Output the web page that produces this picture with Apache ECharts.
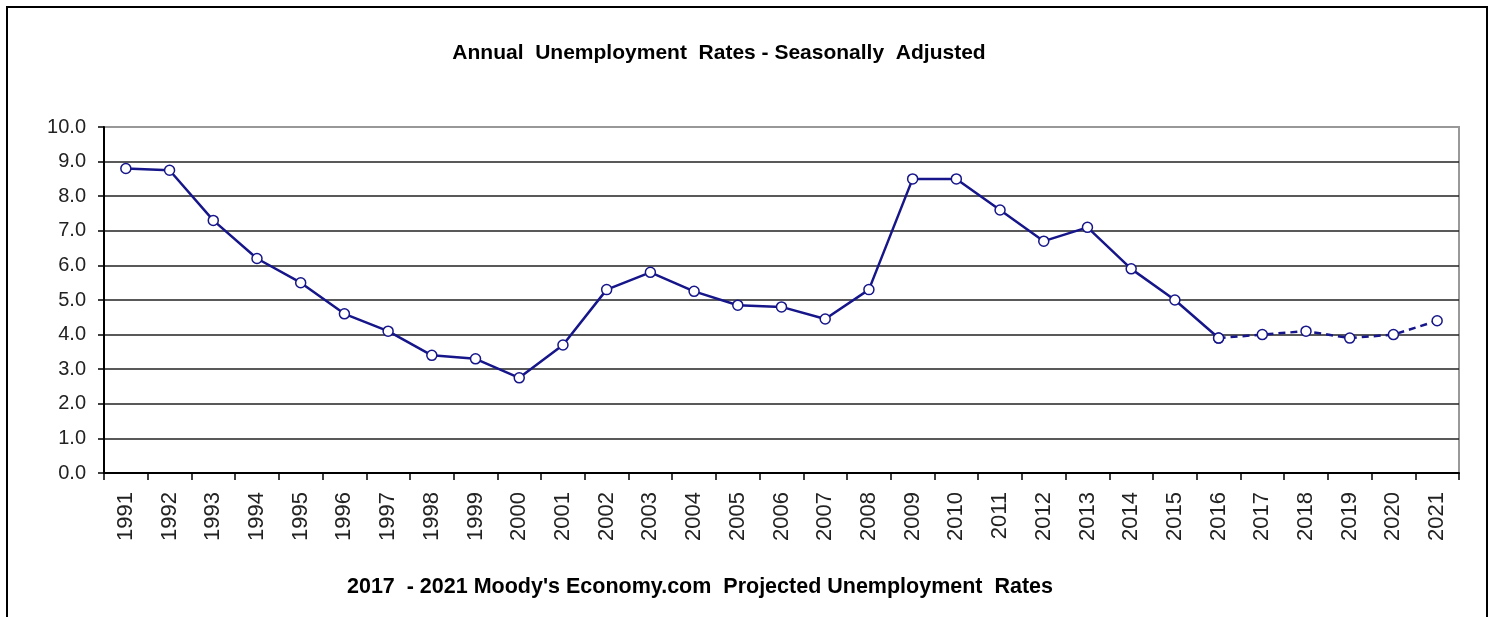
<!DOCTYPE html>
<html><head><meta charset="utf-8">
<script src="https://cdn.jsdelivr.net/npm/echarts@6/dist/echarts.min.js"></script>
<style>html,body{margin:0;padding:0;background:#fff}#c{width:1494px;height:617px}</style>
</head><body><div id="c"></div>
<script>
const years = ['1991','1992','1993','1994','1995','1996','1997','1998','1999','2000','2001','2002','2003','2004','2005','2006','2007','2008','2009','2010','2011','2012','2013','2014','2015','2016','2017','2018','2019','2020','2021'];
const actualRates = [8.8,8.75,7.3,6.2,5.5,4.6,4.1,3.4,3.3,2.75,3.7,5.3,5.8,5.25,4.85,4.8,4.45,5.3,8.5,8.5,7.6,6.7,7.1,5.9,5.0,3.9];
const projectedYears = ['2016','2017','2018','2019','2020','2021'];
const projectedRates = [3.9,4.0,4.1,3.9,4.0,4.4];
const yTicks = [0,1,2,3,4,5,6,7,8,9,10];
const titleText = 'Annual  Unemployment  Rates - Seasonally  Adjusted';
const noteText = '2017  - 2021 Moody\'s Economy.com  Projected Unemployment  Rates';

const solid = years.map((y,i)=> i < actualRates.length ? actualRates[i] : null);
const dashed = years.map(y => { const k = projectedYears.indexOf(y); return k >= 0 ? projectedRates[k] : null; });
const narrow = '"Liberation Sans Narrow","Arial Narrow","Liberation Sans",Arial,sans-serif';
const navy = '#16168a';
const gridColors = yTicks.map((t,i)=> i === yTicks.length-1 ? '#999' : '#222');

const chart = echarts.init(document.getElementById('c'));
chart.setOption({
  animation:false,
  title:[{text:titleText,left:714,top:38,textAlign:'center',textStyle:{fontFamily:narrow,fontSize:21,fontWeight:'bold',color:'#000'}},
         {text:noteText,left:695,top:571,textAlign:'center',textStyle:{fontFamily:narrow,fontSize:21.5,fontWeight:'bold',color:'#000'}}],
  graphic:[{type:'rect',shape:{x:7,y:7,width:1480,height:640},style:{fill:null,stroke:'#000',lineWidth:2},silent:true}],
  grid:{left:104,right:35,top:127,bottom:144,show:true,borderColor:'#999',borderWidth:2,backgroundColor:'transparent'},
  xAxis:{type:'category',data:years,boundaryGap:true,
    axisLine:{lineStyle:{color:'#000',width:2}},
    axisTick:{show:true,length:7,lineStyle:{color:'#000',width:1.5}},
    axisLabel:{rotate:90,margin:19,fontFamily:'"Liberation Sans",Arial,sans-serif',fontSize:22,color:'#222',interval:0},
    splitLine:{show:false}},
  yAxis:{type:'value',min:0,max:10,interval:1,
    axisLine:{show:true,lineStyle:{color:'#000',width:2}},
    axisTick:{show:true,length:6,lineStyle:{color:'#000',width:1.5}},
    axisLabel:{margin:18,fontFamily:'"Liberation Sans",Arial,sans-serif',fontSize:20,color:'#222',formatter:v=>v.toFixed(1)},
    splitLine:{show:true,lineStyle:{color:gridColors,width:1.5}}},
  series:[
    {type:'line',data:solid,symbol:'circle',symbolSize:10,connectNulls:false,
     lineStyle:{color:navy,width:2.5},itemStyle:{color:'#fff',borderColor:navy,borderWidth:1.5}},
    {type:'line',data:dashed,symbol:'circle',symbolSize:10,connectNulls:false,
     lineStyle:{color:navy,width:2.5,type:[7,5]},itemStyle:{color:'#fff',borderColor:navy,borderWidth:1.5},z:3}
  ]
});
</script></body></html>
